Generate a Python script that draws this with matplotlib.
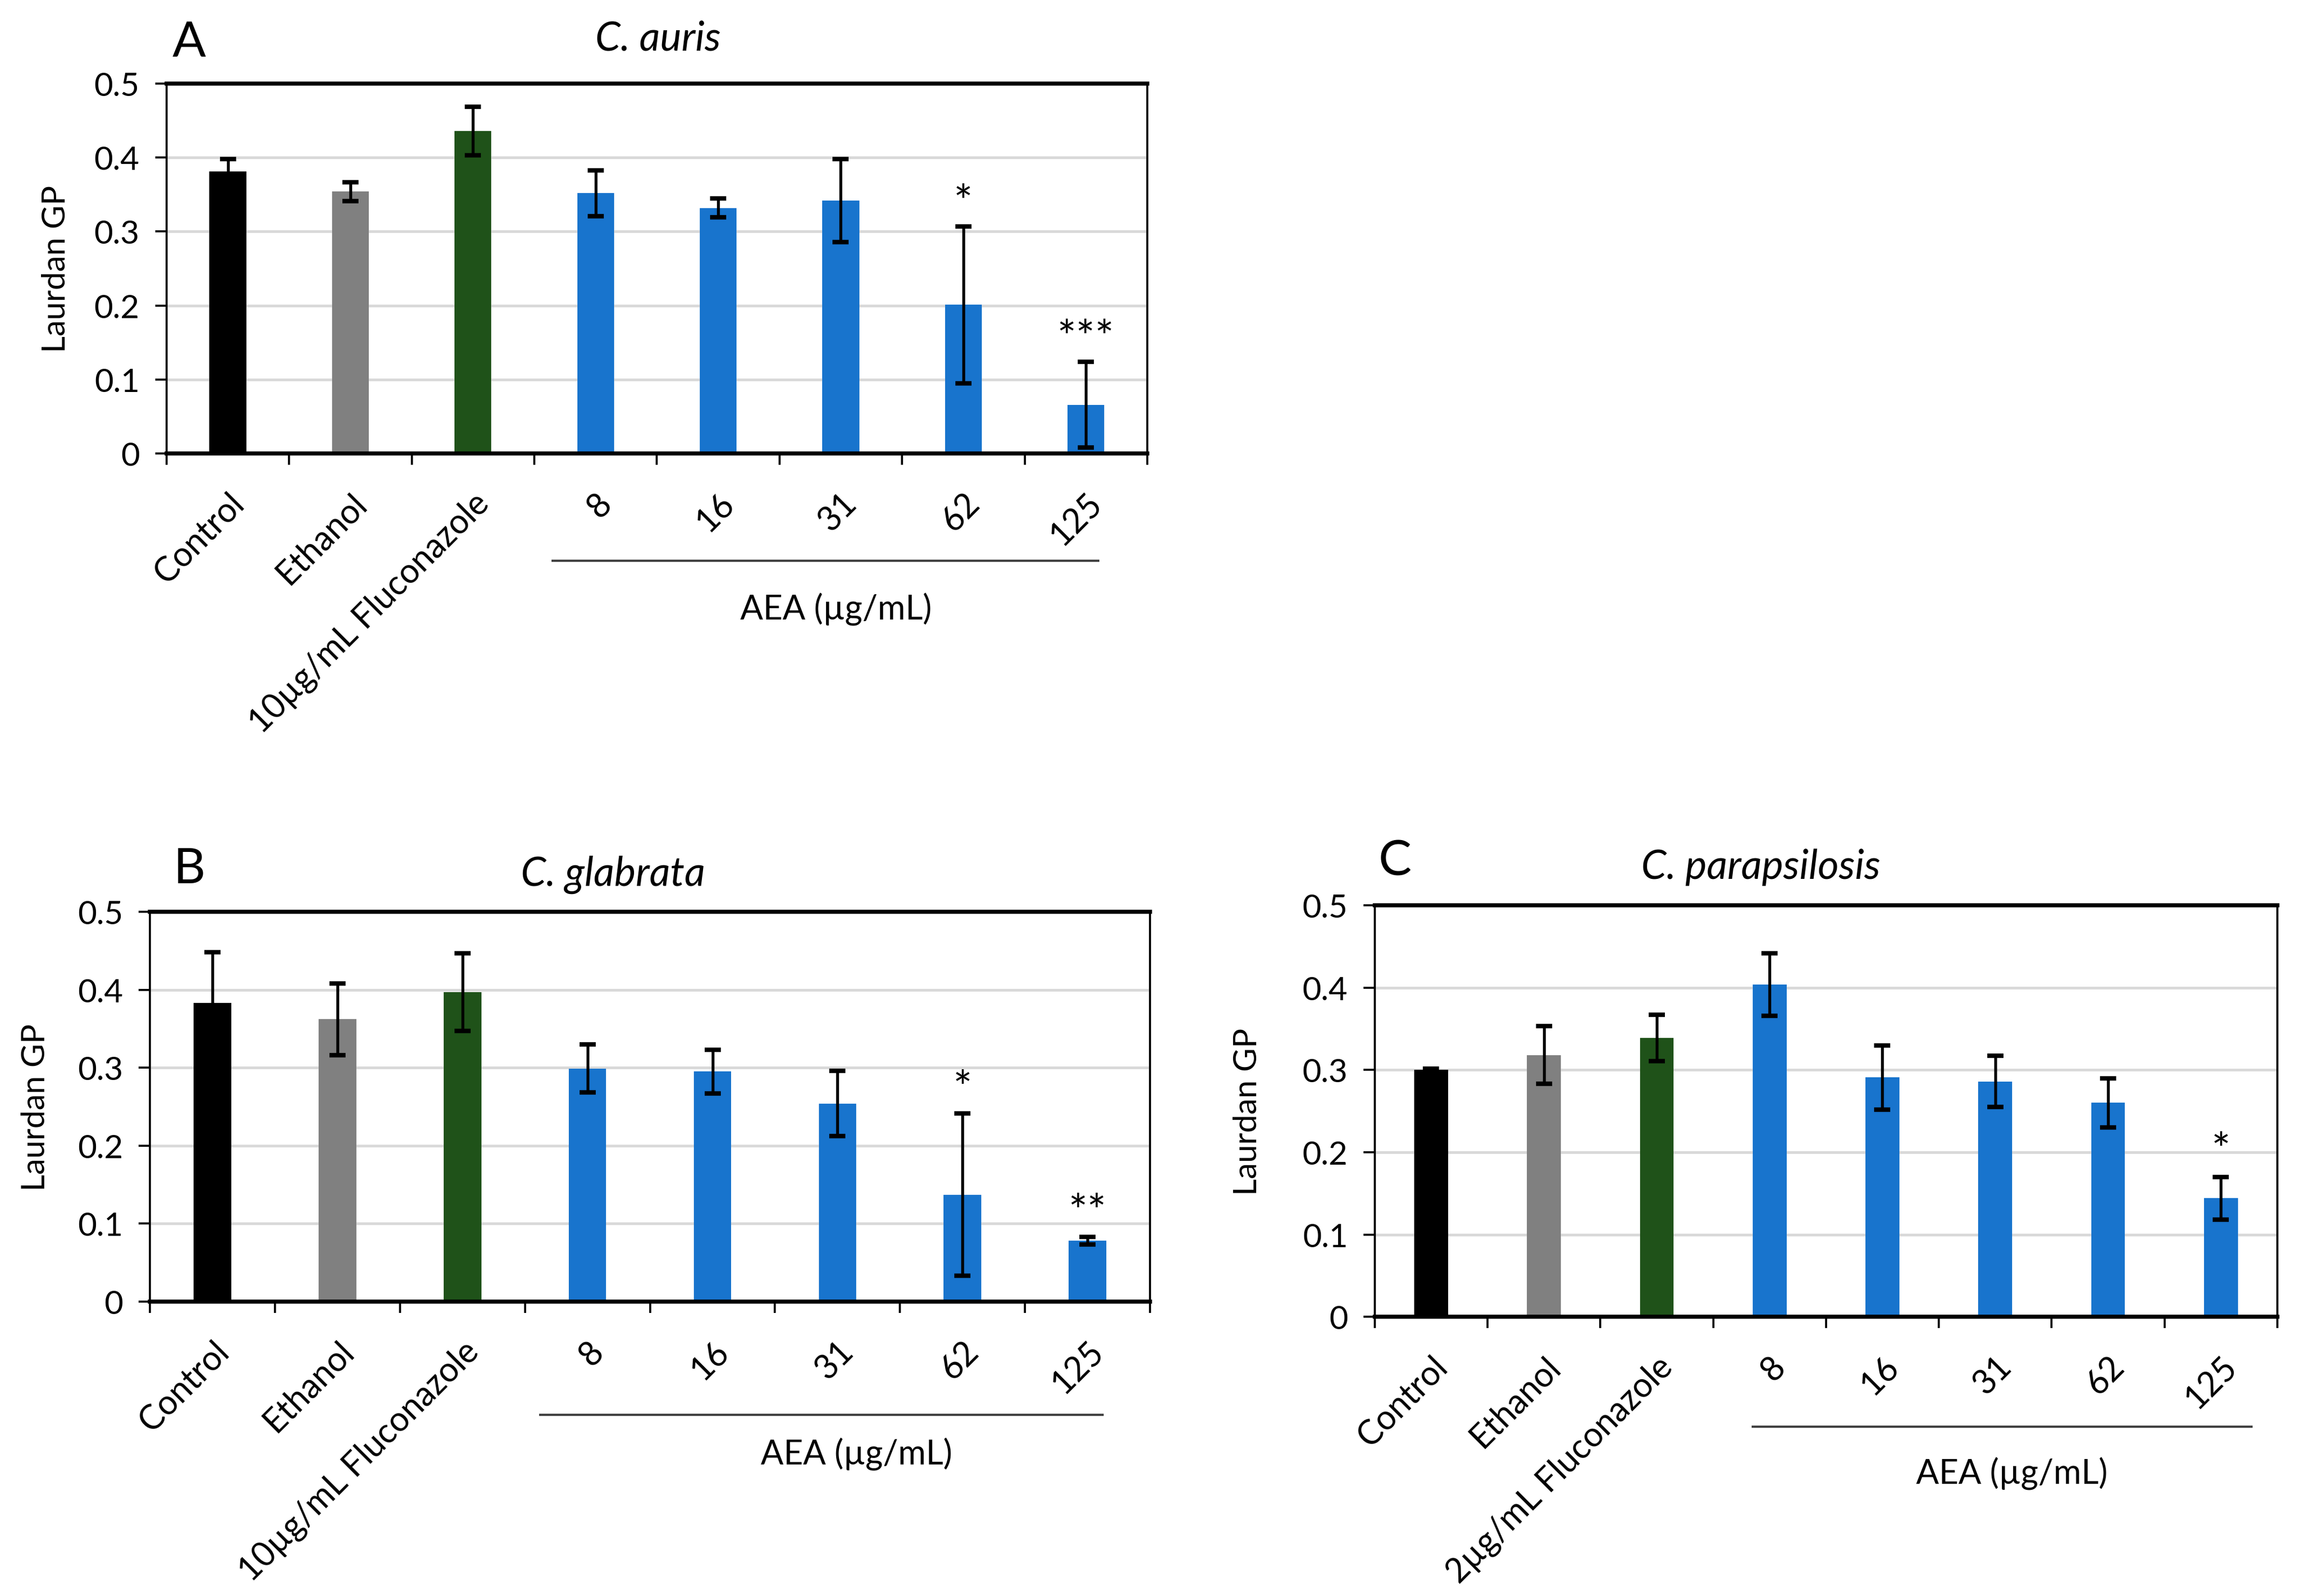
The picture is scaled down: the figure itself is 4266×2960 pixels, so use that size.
import matplotlib
matplotlib.use("Agg")
import matplotlib.pyplot as plt
from matplotlib.ticker import FixedLocator, NullFormatter
import numpy as np

plt.rcParams['font.family'] = ['Lato', 'DejaVu Sans']

# ---------------- data ----------------
labels_10 = ['Control', 'Ethanol', '10µg/mL Fluconazole', '8', '16', '31', '62', '125']
labels_2 = ['Control', 'Ethanol', '2µg/mL Fluconazole', '8', '16', '31', '62', '125']

auris_mean = [0.381, 0.354, 0.436, 0.352, 0.332, 0.342, 0.201, 0.066]
auris_err = [0.017, 0.013, 0.033, 0.031, 0.013, 0.056, 0.106, 0.058]
auris_sig = ['', '', '', '', '', '', '*', '***']

glabrata_mean = [0.383, 0.362, 0.397, 0.299, 0.295, 0.254, 0.137, 0.078]
glabrata_err = [0.065, 0.046, 0.050, 0.031, 0.028, 0.042, 0.104, 0.005]
glabrata_sig = ['', '', '', '', '', '', '*', '**']

parap_mean = [0.300, 0.318, 0.339, 0.404, 0.291, 0.286, 0.260, 0.144]
parap_err = [0.0015, 0.035, 0.028, 0.038, 0.039, 0.031, 0.030, 0.026]
parap_sig = ['', '', '', '', '', '', '', '*']

bar_colors = ['#000000', '#808080', '#1f5219', '#1874cd', '#1874cd',
              '#1874cd', '#1874cd', '#1874cd']

yticks = [0, 0.1, 0.2, 0.3, 0.4, 0.5]


def draw_panel(ax, labels, mean, err, sig, bracket, aea_pos):
    x = np.arange(len(labels))
    for v in yticks[1:-1]:
        ax.axhline(v, color='#d9d9d9', lw=1.2, zorder=0)
    ax.bar(x, mean, width=0.3, color=bar_colors, zorder=2)
    ax.errorbar(x, mean, yerr=err, fmt='none', ecolor='black',
                elinewidth=1.3, capsize=3.5, capthick=2, zorder=3)
    for xi, m, e, s in zip(x, mean, err, sig):
        if s:
            ax.text(xi, m + e + 0.03, s, ha='center', va='center', fontsize=20)

    ax.set_xlim(-0.5, len(labels) - 0.5)
    ax.set_ylim(0, 0.5)
    ax.set_yticks(yticks)
    ax.set_yticklabels([f"{v:g}" for v in yticks])
    ax.xaxis.set_major_locator(FixedLocator(np.arange(-0.5, len(labels), 1.0)))
    ax.xaxis.set_major_formatter(NullFormatter())
    ax.xaxis.set_minor_locator(FixedLocator(x))
    ax.set_xticklabels(labels, minor=True, rotation=45, ha='right',
                       rotation_mode='anchor', fontsize=15)
    ax.tick_params(axis='x', which='minor', length=0, pad=15)
    ax.tick_params(axis='x', which='major', length=5, width=0.9, direction='out')
    ax.tick_params(axis='y', length=5, width=0.9, labelsize=14.5, pad=7)

    for side in ['left', 'right']:
        ax.spines[side].set_linewidth(0.9)
    for side in ['top', 'bottom']:
        ax.spines[side].set_linewidth(1.8)

    ax.set_ylabel('Laurdan GP', fontsize=14.5)

    trans = ax.get_xaxis_transform()
    ax.plot(bracket[:2], [bracket[2], bracket[2]], color='#404040', lw=1.0,
            transform=trans, clip_on=False)
    ax.text(aea_pos[0], aea_pos[1], 'AEA (µg/mL)', transform=trans,
            ha='center', va='center', fontsize=15)


fig = plt.figure(figsize=(14.22, 9.87), dpi=300)

ax_a = fig.add_axes([0.0724, 0.7156, 0.4264, 0.2317])
ax_b = fig.add_axes([0.0652, 0.1844, 0.4348, 0.2442])
ax_c = fig.add_axes([0.5977, 0.1749, 0.3924, 0.2577])

draw_panel(ax_a, labels_10, auris_mean, auris_err, auris_sig,
           (2.65, 7.1, -0.29), (4.96, -0.42))
draw_panel(ax_b, labels_10, glabrata_mean, glabrata_err, glabrata_sig,
           (2.62, 7.12, -0.29), (5.15, -0.39))
draw_panel(ax_c, labels_2, parap_mean, parap_err, parap_sig,
           (2.85, 7.27, -0.267), (5.15, -0.38))

ax_a.yaxis.set_label_coords(-0.098, 0.5)
ax_b.yaxis.set_label_coords(-0.1, 0.5)
ax_c.yaxis.set_label_coords(-0.125, 0.5)

# panel titles and letters
fig.text(0.2862, 0.9757, 'C. auris', style='italic', fontsize=18, ha='center', va='center')
fig.text(0.2665, 0.4522, 'C. glabrata', style='italic', fontsize=18, ha='center', va='center')
fig.text(0.7656, 0.4569, 'C. parapsilosis', style='italic', fontsize=18, ha='center', va='center')
fig.text(0.0823, 0.973, 'A', fontsize=22, ha='center', va='center')
fig.text(0.0823, 0.4553, 'B', fontsize=22, ha='center', va='center')
fig.text(0.6064, 0.4603, 'C', fontsize=22, ha='center', va='center')

fig.savefig('out.png', dpi=300, facecolor='white')
